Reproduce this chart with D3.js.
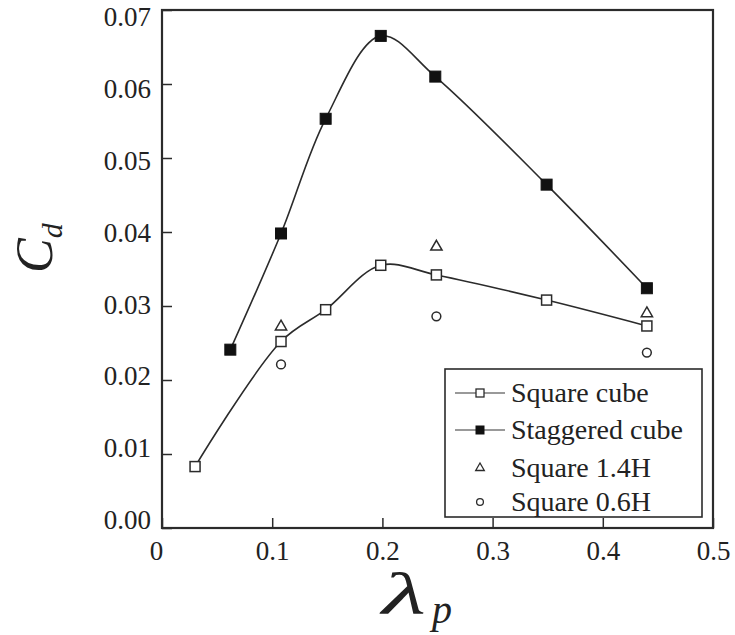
<!DOCTYPE html>
<html>
<head>
<meta charset="utf-8">
<script src="https://cdn.jsdelivr.net/npm/d3@7/dist/d3.min.js"></script>
<style>
  html, body { margin: 0; padding: 0; background: #fff; }
  svg { display: block; }
  text { font-family: "Liberation Serif", "DejaVu Serif", serif; fill: #222; }
</style>
</head>
<body>
<svg id="chart" width="735" height="635"></svg>
<script>
// Drag coefficient against plan area density
const squareX   = [0.030, 0.108, 0.1485, 0.1985, 0.249, 0.349, 0.440];
const squareCd  = [0.0083, 0.0252, 0.0295, 0.0355, 0.0342, 0.0308, 0.0273];
const staggerX  = [0.062, 0.108, 0.1485, 0.1985, 0.248, 0.349, 0.440];
const staggerCd = [0.0241, 0.0398, 0.0553, 0.0665, 0.0610, 0.0464, 0.0324];
const tallX     = [0.108, 0.249, 0.440];
const tallCd    = [0.0272, 0.0380, 0.0290];
const lowX      = [0.108, 0.249, 0.440];
const lowCd     = [0.0221, 0.0286, 0.0237];
const xTicks    = [0, 0.1, 0.2, 0.3, 0.4, 0.5];
const yTicks    = [0, 0.01, 0.02, 0.03, 0.04, 0.05, 0.06, 0.07];
const legendLabels = ["Square cube", "Staggered cube", "Square 1.4H", "Square 0.6H"];

const svg = d3.select("#chart");
const ink = "#2b2b2b";

const x = d3.scaleLinear().domain([0, 0.5]).range([162, 713]);
const y = d3.scaleLinear().domain([0, 0.07]).range([528, 10]);
// tick labels sit slightly inside the end ticks
const yLabel = d3.scaleLinear().domain([0, 0.07]).range([520, 17]);

// y axis with inward ticks
const yAxis = svg.append("g")
  .attr("transform", `translate(${x(0)},0)`)
  .call(d3.axisLeft(y).tickValues(yTicks).tickFormat(d3.format(".2f")).tickSize(-10).tickPadding(11));
yAxis.select(".domain").remove();
yAxis.selectAll("line").attr("stroke", ink).attr("stroke-width", 1.5);
yAxis.selectAll(".tick text")
  .attr("transform", d => `translate(0,${yLabel(d) - y(d)})`)
  .attr("font-size", 27).attr("font-family", "Liberation Serif").attr("fill", "#222");

// x axis with inward ticks
const xAxis = svg.append("g")
  .attr("transform", `translate(0,${y(0)})`)
  .call(d3.axisBottom(x).tickValues(xTicks).tickFormat(d => d === 0 ? "0" : d3.format(".1f")(d)).tickSize(-10).tickPadding(13));
xAxis.select(".domain").remove();
xAxis.selectAll("line").attr("stroke", ink).attr("stroke-width", 1.5);
xAxis.selectAll("text").attr("font-size", 27).attr("font-family", "Liberation Serif").attr("fill", "#222")
  .attr("dx", d => d === 0 ? -6 : 0);

// plot frame
svg.append("rect")
  .attr("x", x(0)).attr("y", y(0.07))
  .attr("width", x(0.5) - x(0)).attr("height", y(0) - y(0.07))
  .attr("fill", "none").attr("stroke", ink).attr("stroke-width", 2.2);

const line = d3.line().x(d => x(d[0])).y(d => y(d[1])).curve(d3.curveCatmullRom.alpha(0.5));

const squarePts  = squareX.map((v, i) => [v, squareCd[i]]);
const staggerPts = staggerX.map((v, i) => [v, staggerCd[i]]);

svg.append("path").attr("d", line(squarePts))
  .attr("fill", "none").attr("stroke", ink).attr("stroke-width", 1.6);
svg.append("path").attr("d", line(staggerPts))
  .attr("fill", "none").attr("stroke", ink).attr("stroke-width", 1.6);

// markers
const sq = 10, sqF = 11;
svg.append("g").selectAll("rect").data(squarePts).join("rect")
  .attr("x", d => x(d[0]) - sq / 2).attr("y", d => y(d[1]) - sq / 2)
  .attr("width", sq).attr("height", sq)
  .attr("fill", "#fff").attr("stroke", ink).attr("stroke-width", 1.5);
svg.append("g").selectAll("rect").data(staggerPts).join("rect")
  .attr("x", d => x(d[0]) - sqF / 2).attr("y", d => y(d[1]) - sqF / 2)
  .attr("width", sqF).attr("height", sqF)
  .attr("fill", "#111").attr("stroke", "#111").attr("stroke-width", 1);

const tri = d3.symbol().type(d3.symbolTriangle).size(55);
svg.append("g").selectAll("path").data(tallX.map((v, i) => [v, tallCd[i]])).join("path")
  .attr("d", tri)
  .attr("transform", d => `translate(${x(d[0])},${y(d[1])})`)
  .attr("fill", "#fff").attr("stroke", ink).attr("stroke-width", 1.5);
svg.append("g").selectAll("circle").data(lowX.map((v, i) => [v, lowCd[i]])).join("circle")
  .attr("cx", d => x(d[0])).attr("cy", d => y(d[1])).attr("r", 4.4)
  .attr("fill", "#fff").attr("stroke", ink).attr("stroke-width", 1.5);

// legend
const lg = svg.append("g");
lg.append("rect").attr("x", 445).attr("y", 369).attr("width", 257).attr("height", 148)
  .attr("fill", "#fff").attr("stroke", ink).attr("stroke-width", 1.6);
const rowY = [393, 430, 468, 502];
const sx0 = 455, sx1 = 505, sxm = 480;
// rows 1-2: line samples with markers
[0, 1].forEach(i => {
  lg.append("line").attr("x1", sx0).attr("x2", sx1).attr("y1", rowY[i]).attr("y2", rowY[i])
    .attr("stroke", "#777").attr("stroke-width", 1.6);
});
lg.append("rect").attr("x", sxm - 4).attr("y", rowY[0] - 4).attr("width", 8).attr("height", 8)
  .attr("fill", "#fff").attr("stroke", ink).attr("stroke-width", 1.3);
lg.append("rect").attr("x", sxm - 4.5).attr("y", rowY[1] - 4.5).attr("width", 9).attr("height", 9)
  .attr("fill", "#111");
lg.append("path").attr("d", d3.symbol().type(d3.symbolTriangle).size(32))
  .attr("transform", `translate(${sxm},${rowY[2]})`)
  .attr("fill", "#fff").attr("stroke", ink).attr("stroke-width", 1.3);
lg.append("circle").attr("cx", sxm).attr("cy", rowY[3]).attr("r", 3.4)
  .attr("fill", "#fff").attr("stroke", ink).attr("stroke-width", 1.3);
lg.selectAll("text.lbl").data(legendLabels).join("text").attr("class", "lbl")
  .attr("x", 511).attr("y", (d, i) => rowY[i]).attr("dy", "0.33em")
  .attr("font-size", 28).text(d => d);

// axis titles
const yt = svg.append("text")
  .attr("transform", "translate(52,273) rotate(-90)")
  .attr("font-style", "italic").attr("font-size", 52);
yt.append("tspan").text("C");
yt.append("tspan").attr("font-size", 30).attr("dy", 10).text("d");

svg.append("text")
  .attr("x", 382).attr("y", 614)
  .attr("font-style", "italic").attr("font-size", 60).attr("fill", "#333")
  .attr("textLength", 44).attr("lengthAdjust", "spacingAndGlyphs")
  .text("λ");
svg.append("text")
  .attr("x", 432).attr("y", 623)
  .attr("font-style", "italic").attr("font-size", 40)
  .text("p");
</script>
</body>
</html>
